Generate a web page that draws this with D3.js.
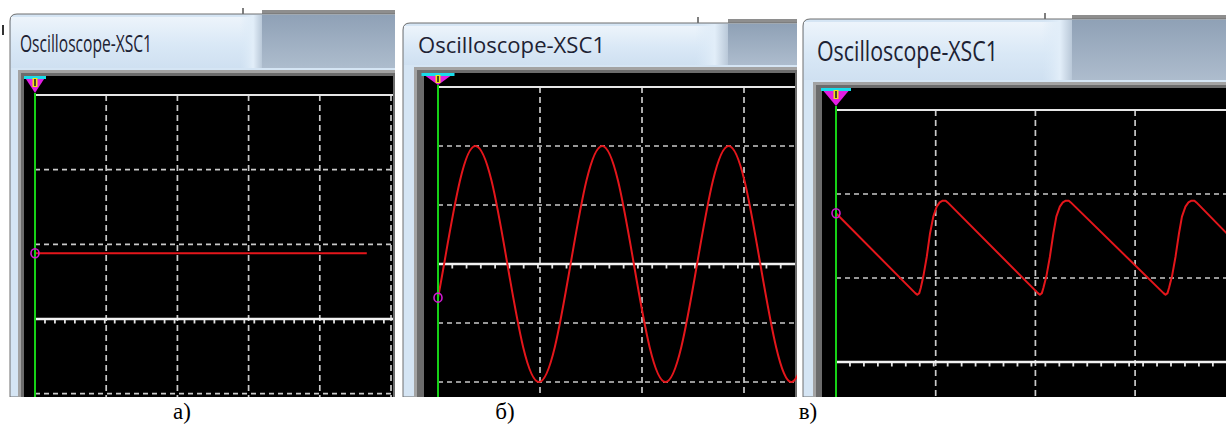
<!DOCTYPE html>
<html>
<head>
<meta charset="utf-8">
<script src="https://cdn.jsdelivr.net/npm/d3@7"></script>
<style>
  body { margin: 0; background: #fff; }
  svg { display: block; }
</style>
</head>
<body>
<div id="chart"></div>
<script>
// captions under the three screenshots
const panelLabels = ['а)', 'б)', 'в)'];
const windowTitle = 'Oscilloscope-XSC1';

// channel A traces (time in div, volts in div)
const dcTime = [0, 4.66];
const dcVolts = [0.88, 0.88];

const sineTime = [0, 0.06, 0.215, 0.37, 0.525, 0.68, 0.835, 0.99, 1.145, 1.30, 1.455, 1.61,
  1.765, 1.92, 2.075, 2.23, 2.385, 2.54, 2.695, 2.85, 3.005, 3.16, 3.315, 3.47, 3.625];
const sineVolts = [-0.57, 0, 1.41, 2, 1.41, 0, -1.41, -2, -1.41, 0, 1.41, 2,
  1.41, 0, -1.41, -2, -1.41, 0, 1.41, 2, 1.41, 0, -1.41, -2, -1.41];

const sawTime = [0, 0.795, 0.815, 0.835, 0.85, 0.876, 0.91, 0.943, 0.976, 1.01, 1.04, 1.07, 1.10, 1.12,
  2.025, 2.045, 2.065, 2.08, 2.11, 2.145, 2.18, 2.21, 2.245, 2.275, 2.305, 2.335, 2.355,
  3.285, 3.305, 3.325, 3.34, 3.37, 3.405, 3.44, 3.47, 3.505, 3.535, 3.565, 3.595, 3.615, 3.92];
const sawVolts = [1.77, 0.82, 0.80, 0.82, 0.88, 1.02, 1.25, 1.53, 1.73, 1.85, 1.90, 1.92, 1.92, 1.90,
  0.82, 0.80, 0.82, 0.88, 1.02, 1.25, 1.53, 1.73, 1.85, 1.90, 1.92, 1.92, 1.90,
  0.82, 0.80, 0.82, 0.88, 1.02, 1.25, 1.53, 1.73, 1.85, 1.90, 1.92, 1.92, 1.90, 1.53];

// screenshot geometry of each window (pixels)
const panels = [
  {left: 10, right: 395, winTop: 14, frameX: 18, frameTop: 70, screenX: 24, screenTop: 76, screenRight: 393,
    x0: 35, divX: 71.2, y0: 319, divY: 74.7, triW: 22, triH: 17,
    titleX: 20, titleBase: 52, titleW: 132, titleSize: 23, bandX: 240, darkX: 262, labelX: 182,
    trace: {t: dcTime, v: dcVolts}, curve: d3.curveLinear},
  {left: 403, right: 797, winTop: 23, frameX: 414, frameTop: 67, screenX: 424, screenTop: 73, screenRight: 795,
    x0: 438, divX: 102, y0: 264, divY: 59, triW: 33, triH: 12,
    titleX: 418, titleBase: 53, titleW: 187, titleSize: 22, bandX: 695, darkX: 728, labelX: 505,
    trace: {t: sineTime, v: sineVolts}, curve: d3.curveNatural},
  {left: 803, right: 1226, winTop: 19, frameX: 813, frameTop: 82, screenX: 822, screenTop: 88, screenRight: 1226,
    x0: 836, divX: 99.7, y0: 362, divY: 84, triW: 30, triH: 18,
    titleX: 817, titleBase: 61, titleW: 181, titleSize: 27, bandX: 1042, darkX: 1072, labelX: 808,
    trace: {t: sawTime, v: sawVolts}, curve: d3.curveLinear}
];

const width = 1226;
const height = 426;
const bottom = 397;

const svg = d3.select('#chart').append('svg')
  .attr('width', width)
  .attr('height', height);

const defs = svg.append('defs');

const titleGrad = defs.append('linearGradient').attr('id', 'titleGrad')
  .attr('x1', 0).attr('y1', 0).attr('x2', 0).attr('y2', 1);
titleGrad.append('stop').attr('offset', '0%').attr('stop-color', '#edf4fb');
titleGrad.append('stop').attr('offset', '55%').attr('stop-color', '#d9e8f6');
titleGrad.append('stop').attr('offset', '100%').attr('stop-color', '#cfe0f1');

const darkGrad = defs.append('linearGradient').attr('id', 'darkGrad')
  .attr('x1', 0).attr('y1', 0).attr('x2', 0).attr('y2', 1);
darkGrad.append('stop').attr('offset', '0%').attr('stop-color', '#8fa1b6');
darkGrad.append('stop').attr('offset', '100%').attr('stop-color', '#adbccd');

const bandGrad = defs.append('linearGradient').attr('id', 'bandGrad')
  .attr('x1', 0).attr('y1', 0).attr('x2', 1).attr('y2', 0);
bandGrad.append('stop').attr('offset', '0%').attr('stop-color', '#d9e8f6').attr('stop-opacity', 0);
bandGrad.append('stop').attr('offset', '60%').attr('stop-color', '#e2eef9');
bandGrad.append('stop').attr('offset', '100%').attr('stop-color', '#b9c8d8');

function drawPanel (p, i) {
  const clipId = 'clip' + i;
  defs.append('clipPath').attr('id', clipId)
    .append('rect')
    .attr('x', p.left - 2).attr('y', 0)
    .attr('width', p.right - p.left + 2).attr('height', bottom);

  const g = svg.append('g').attr('clip-path', 'url(#' + clipId + ')');

  // window behind (gray strip above the title bar)
  g.append('rect')
    .attr('x', p.darkX).attr('y', p.winTop - 4)
    .attr('width', p.right - p.darkX).attr('height', 6)
    .attr('fill', '#8e8e8e');
  g.append('line')
    .attr('x1', p.bandX + 3).attr('x2', p.bandX + 3)
    .attr('y1', p.winTop - 6).attr('y2', p.winTop)
    .attr('stroke', '#555').attr('stroke-width', 1.5);

  // window body
  const r = 7;
  g.append('path')
    .attr('d', 'M' + p.left + ',' + bottom + 'V' + (p.winTop + r) +
      'Q' + p.left + ',' + p.winTop + ' ' + (p.left + r) + ',' + p.winTop +
      'H' + (p.right + 10) + 'V' + bottom + 'Z')
    .attr('fill', '#d5e5f4')
    .attr('stroke', '#6f6f6f')
    .attr('stroke-width', 1);

  g.append('rect')
    .attr('x', p.left + 1).attr('y', p.winTop + 3)
    .attr('width', p.right - p.left).attr('height', p.frameTop - p.winTop - 5)
    .attr('fill', 'url(#titleGrad)');
  g.append('rect')
    .attr('x', p.bandX).attr('y', p.winTop + 1)
    .attr('width', p.darkX - p.bandX).attr('height', p.frameTop - p.winTop - 3)
    .attr('fill', 'url(#bandGrad)');
  g.append('rect')
    .attr('x', p.darkX).attr('y', p.winTop + 1)
    .attr('width', p.right - p.darkX).attr('height', p.frameTop - p.winTop - 3)
    .attr('fill', 'url(#darkGrad)');

  g.append('text')
    .attr('x', p.titleX).attr('y', p.titleBase)
    .attr('textLength', p.titleW)
    .attr('lengthAdjust', 'spacingAndGlyphs')
    .style('font-family', '"Open Sans", "Noto Sans", sans-serif')
    .style('font-size', p.titleSize + 'px')
    .attr('fill', '#1d2233')
    .text(windowTitle);

  // screen frame
  g.append('rect')
    .attr('x', p.frameX).attr('y', p.frameTop)
    .attr('width', p.right - p.frameX + 10).attr('height', bottom - p.frameTop + 10)
    .attr('fill', '#a3a3a3');
  g.append('rect')
    .attr('x', p.frameX + 3).attr('y', p.frameTop + 3)
    .attr('width', p.right - p.frameX + 10).attr('height', bottom - p.frameTop + 10)
    .attr('fill', '#6c6c6c');
  g.append('rect')
    .attr('x', p.screenX).attr('y', p.screenTop)
    .attr('width', p.screenRight - p.screenX).attr('height', bottom - p.screenTop + 10)
    .attr('fill', '#000');

  const maxT = (p.screenRight - p.x0) / p.divX;
  const x = d3.scaleLinear().domain([0, maxT]).range([p.x0, p.screenRight]);
  const y = d3.scaleLinear().domain([0, 1]).range([p.y0, p.y0 - p.divY]);

  const grid = g.append('g').attr('class', 'grid');

  grid.selectAll('line.h')
    .data([-3, -2, -1, 1, 2].filter((v) => y(v) < bottom))
    .enter().append('line')
    .attr('class', 'h')
    .attr('x1', x(0)).attr('x2', p.screenRight)
    .attr('y1', (v) => y(v)).attr('y2', (v) => y(v))
    .attr('stroke', '#c9c9c9').attr('stroke-width', 1.7)
    .attr('stroke-dasharray', '5,4');

  grid.selectAll('line.v')
    .data(d3.range(1, Math.floor(maxT) + 1))
    .enter().append('line')
    .attr('class', 'v')
    .attr('x1', (t) => x(t)).attr('x2', (t) => x(t))
    .attr('y1', y(3)).attr('y2', bottom)
    .attr('stroke', '#c9c9c9').attr('stroke-width', 1.7)
    .attr('stroke-dasharray', '6,4');

  grid.append('line')
    .attr('x1', x(0)).attr('x2', p.screenRight)
    .attr('y1', y(3)).attr('y2', y(3))
    .attr('stroke', '#e6e6e6').attr('stroke-width', 2);

  // channel B ground trace with its little noise ticks
  const ground = g.append('g').attr('class', 'ground');
  ground.selectAll('line.tick')
    .data(d3.range(0.14, maxT, 0.14))
    .enter().append('line')
    .attr('class', 'tick')
    .attr('x1', (t) => x(t)).attr('x2', (t) => x(t))
    .attr('y1', y(0)).attr('y2', y(0) + 4.5)
    .attr('stroke', '#e2e2e2').attr('stroke-width', 1.8);
  ground.append('line')
    .attr('x1', x(0)).attr('x2', p.screenRight)
    .attr('y1', y(0)).attr('y2', y(0))
    .attr('stroke', '#f2f2f2').attr('stroke-width', 2.4);

  // channel A
  const pts = p.trace.t.map((t, k) => [t, p.trace.v[k]]);
  const line = d3.line()
    .x((d) => x(d[0]))
    .y((d) => y(d[1]))
    .curve(p.curve);
  g.append('path')
    .attr('d', line(pts))
    .attr('fill', 'none')
    .attr('stroke', '#e4161b')
    .attr('stroke-width', 2)
    .attr('stroke-linejoin', 'round');

  // cursor line and trigger marker
  g.append('line')
    .attr('x1', x(0)).attr('x2', x(0))
    .attr('y1', p.screenTop + p.triH).attr('y2', bottom)
    .attr('stroke', '#16d016').attr('stroke-width', 2);

  g.append('ellipse')
    .attr('cx', x(0)).attr('cy', y(pts[0][1]))
    .attr('rx', 4).attr('ry', 4.5)
    .attr('fill', 'none')
    .attr('stroke', '#d21ad2').attr('stroke-width', 1.6);

  const top = p.screenTop;
  g.append('path')
    .attr('d', 'M' + (x(0) - p.triW / 2) + ',' + top + 'H' + (x(0) + p.triW / 2) +
      'L' + x(0) + ',' + (top + p.triH) + 'Z')
    .attr('fill', '#e21ee2');
  g.append('rect')
    .attr('x', x(0) - p.triW / 2).attr('y', top)
    .attr('width', p.triW).attr('height', 3)
    .attr('fill', '#18dcea');
  g.append('rect')
    .attr('x', x(0) - 2.5).attr('y', top + 2)
    .attr('width', 5).attr('height', Math.min(9, p.triH - 4))
    .attr('fill', '#f1e01a');
  g.append('rect')
    .attr('x', x(0) - 0.8).attr('y', top + 3)
    .attr('width', 1.6).attr('height', Math.min(7, p.triH - 6))
    .attr('fill', '#222');

  // caption
  svg.append('text')
    .attr('x', p.labelX).attr('y', 419)
    .attr('text-anchor', 'middle')
    .style('font-family', '"Liberation Serif", "DejaVu Serif", serif')
    .style('font-size', '23px')
    .attr('fill', '#000')
    .text(panelLabels[i]);
}

panels.forEach(drawPanel);

// stray mark at the far left of the first screenshot
svg.append('rect')
  .attr('x', 2).attr('y', 25).attr('width', 2).attr('height', 10)
  .attr('fill', '#333');
</script>
</body>
</html>
